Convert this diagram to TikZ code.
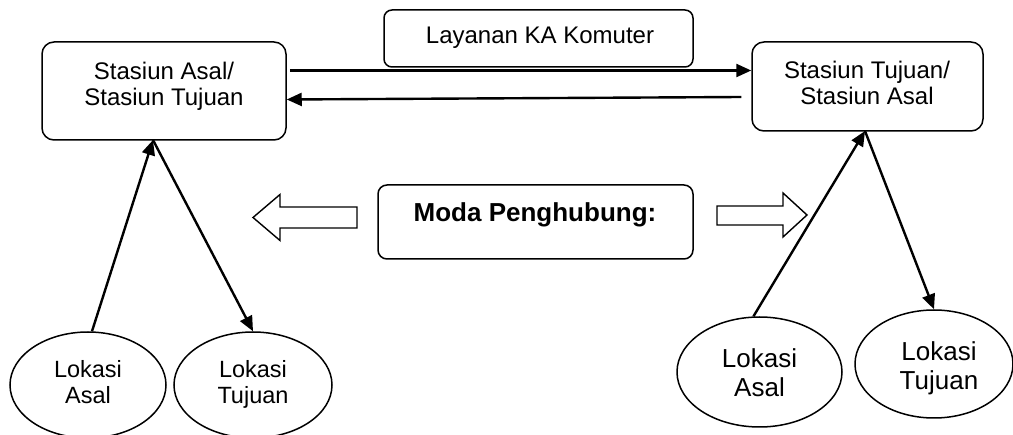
\documentclass[tikz,border=0pt]{standalone}
\usepackage{fontspec}
\setmainfont{Liberation Sans}
\usetikzlibrary{arrows.meta,shapes.geometric}
\begin{document}
\begin{tikzpicture}[x=1pt,y=-1pt,
  box/.style={draw,line width=1.5pt,rounded corners=12pt,inner sep=0pt},
  loc/.style={draw,ellipse,line width=1.5pt,inner sep=0pt},
  lbl/.style={align=center,anchor=base,inner sep=0pt,font=\fontsize{24}{26}\selectfont},
  small/.style={font=\fontsize{23.5}{26}\selectfont},
  large/.style={font=\fontsize{26}{29}\selectfont},
  conn/.style={line width=2.4pt,-{Triangle[length=15pt,width=13pt]}},
  hollow/.style={draw,line width=1.4pt,line join=miter,fill=white}]

\useasboundingbox (0,0) rectangle (1013,435);

% stations (two-line labels are placed by the baseline of their last line)
\node[box,minimum width=244pt,minimum height=98pt] (L) at (164,91) {};
\node[lbl] (Ltxt) at (164,106) {Stasiun Asal/\\Stasiun Tujuan};
\node[box,minimum width=231pt,minimum height=89pt] (R) at (867.5,86.5) {};
\node[lbl] (Rtxt) at (867,105) {Stasiun Tujuan/\\Stasiun Asal};

% service and feeder boxes
\node[box,rounded corners=8pt,minimum width=309pt,minimum height=57pt] (K) at (538.5,38.5) {};
\node[lbl] (Ktxt) at (540,44) {Layanan KA Komuter};
\node[box,rounded corners=9pt,minimum width=315pt,minimum height=74pt] (M) at (535.5,222) {};
\node[lbl,font=\fontsize{26}{28}\selectfont\bfseries] (Mtxt) at (535,222) {Moda Penghubung:};

% locations
\node[loc,minimum width=156pt,minimum height=106pt] (la) at (88,385) {};
\node[lbl,small] (latxt) at (88,404) {Lokasi\\Asal};
\node[loc,minimum width=158pt,minimum height=106pt] (lt) at (253,385) {};
\node[lbl,small] (lttxt) at (253,404) {Lokasi\\Tujuan};
\node[loc,minimum width=165pt,minimum height=110pt] (ra) at (759.5,372) {};
\node[lbl,large] (ratxt) at (759.5,397) {Lokasi\\Asal};
\node[loc,minimum width=158pt,minimum height=108pt] (rt) at (934,364) {};
\node[lbl,large] (rttxt) at (939,390) {Lokasi\\Tujuan};

% train service between the stations
\draw[conn] ([xshift=3pt,yshift=20.5pt]L.east) -- ([yshift=16pt]R.west);
\draw[conn] ([xshift=-10pt,yshift=-10.5pt]R.west) -- ([yshift=-8.5pt]L.east);

% access and egress legs
\coordinate (Lhub) at (153,140);
\coordinate (Rhub) at (865,131);
\draw[conn] ([xshift=4pt]la.north) -- (Lhub);
\draw[conn] (Lhub) -- (lt.north);
\draw[conn] ([xshift=-6pt]ra.north) -- (Rhub);
\draw[conn] (Rhub) -- (rt.north);

% hollow block arrows beside the feeder box
\draw[hollow] (253,217.5) -- (280,194.5) -- (280,207) -- (357,207) -- (357,228)
  -- (280,228) -- (280,240.5) -- cycle;
\draw[hollow] (807,215) -- (783,193) -- (783,206) -- (717,206) -- (717,225)
  -- (783,225) -- (783,237) -- cycle;
\end{tikzpicture}
\end{document}
